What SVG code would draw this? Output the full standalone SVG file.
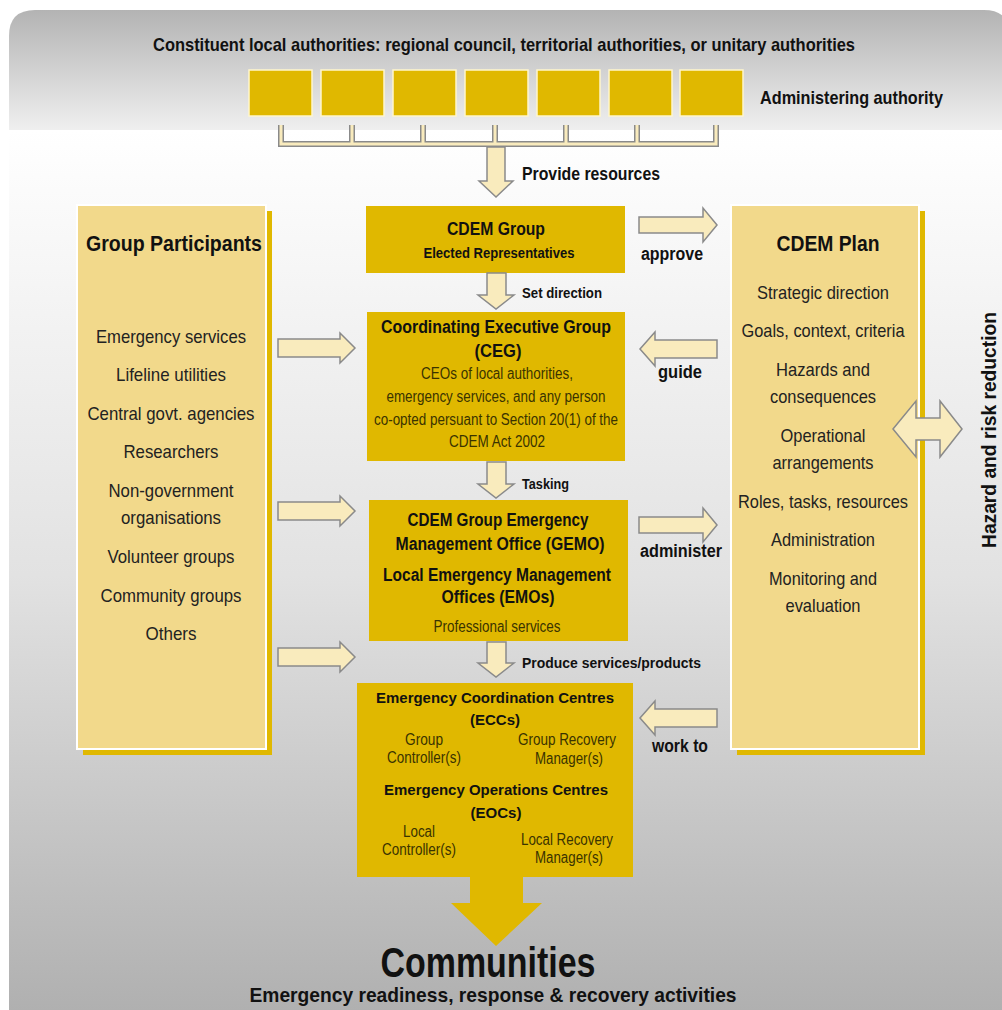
<svg xmlns="http://www.w3.org/2000/svg" width="1002" height="1010" viewBox="0 0 1002 1010">
<defs>
<linearGradient id="gTop" x1="0" y1="0" x2="0" y2="1"><stop offset="0" stop-color="#b3b3b3"/><stop offset="1" stop-color="#efefef"/></linearGradient>
<linearGradient id="gLow" x1="0" y1="0" x2="0" y2="1"><stop offset="0" stop-color="#ffffff"/><stop offset="0.5" stop-color="#e2e2e2"/><stop offset="1" stop-color="#afafaf"/></linearGradient>
</defs>
<style>
.b{font-family:"Liberation Sans",Arial,sans-serif;font-weight:bold;fill:#111;}
.r{font-family:"Liberation Sans",Arial,sans-serif;fill:#222;}
.ry{font-family:"Liberation Sans",Arial,sans-serif;fill:#3a3300;}
.m{text-anchor:middle;}
.ybox{fill:#e0b800;}
.sq{fill:#e0b800;stroke:#fff6cc;stroke-width:1.5;}
.panel{fill:#f2d98b;stroke:#ffffff;stroke-width:2;}
.shadow{fill:#e0b800;}
.arr{fill:#f9ebbd;stroke:#8a8a8a;stroke-width:1.5;stroke-linejoin:miter;}
.brO{fill:none;stroke:#8a8a8a;stroke-width:6;stroke-linejoin:miter;}
.brI{fill:none;stroke:#f9ebbd;stroke-width:3;stroke-linejoin:miter;}
</style>
<!-- background -->
<rect x="9" y="130" width="1000" height="890" fill="url(#gLow)"/>
<path d="M9,130 V36 Q9,10 35,10 H984 Q1010,10 1010,36 V130 Z" fill="url(#gTop)"/>

<text class="b m" x="504" y="51" font-size="19" textLength="702" lengthAdjust="spacingAndGlyphs">Constituent local authorities: regional council, territorial authorities, or unitary authorities</text>
<text class="b" x="760" y="104" font-size="19" textLength="183" lengthAdjust="spacingAndGlyphs">Administering authority</text>

<g id="authorities">
<rect class="sq" x="249" y="70" width="63" height="46"/>
<rect class="sq" x="321" y="70" width="63" height="46"/>
<rect class="sq" x="393" y="70" width="63" height="46"/>
<rect class="sq" x="465" y="70" width="63" height="46"/>
<rect class="sq" x="537" y="70" width="63" height="46"/>
<rect class="sq" x="609" y="70" width="63" height="46"/>
<rect class="sq" x="680" y="70" width="63" height="46"/>
</g>

<g id="group-participants">
<rect class="shadow" x="83" y="211" width="189" height="544"/>
<rect class="panel" x="77" y="205" width="189" height="544"/>
<text class="b m" x="174" y="251" font-size="22" textLength="176" lengthAdjust="spacingAndGlyphs">Group Participants</text>
<text class="r m" x="171" y="343" font-size="19" textLength="150" lengthAdjust="spacingAndGlyphs">Emergency services</text>
<text class="r m" x="171" y="381" font-size="19" textLength="110" lengthAdjust="spacingAndGlyphs">Lifeline utilities</text>
<text class="r m" x="171" y="420" font-size="19" textLength="167" lengthAdjust="spacingAndGlyphs">Central govt. agencies</text>
<text class="r m" x="171" y="458" font-size="19" textLength="95" lengthAdjust="spacingAndGlyphs">Researchers</text>
<text class="r m" x="171" y="497" font-size="19" textLength="125" lengthAdjust="spacingAndGlyphs">Non-government</text>
<text class="r m" x="171" y="524" font-size="19" textLength="100" lengthAdjust="spacingAndGlyphs">organisations</text>
<text class="r m" x="171" y="563" font-size="19" textLength="127" lengthAdjust="spacingAndGlyphs">Volunteer groups</text>
<text class="r m" x="171" y="602" font-size="19" textLength="141" lengthAdjust="spacingAndGlyphs">Community groups</text>
<text class="r m" x="171" y="640" font-size="19" textLength="51" lengthAdjust="spacingAndGlyphs">Others</text>
</g>

<g id="cdem-plan">
<rect class="shadow" x="737" y="211" width="188" height="544"/>
<rect class="panel" x="731" y="205" width="188" height="544"/>
<text class="b m" x="828" y="251" font-size="22" textLength="103" lengthAdjust="spacingAndGlyphs">CDEM Plan</text>
<text class="r m" x="823" y="299" font-size="19" textLength="132" lengthAdjust="spacingAndGlyphs">Strategic direction</text>
<text class="r m" x="823" y="337" font-size="19" textLength="163" lengthAdjust="spacingAndGlyphs">Goals, context, criteria</text>
<text class="r m" x="823" y="376" font-size="19" textLength="94" lengthAdjust="spacingAndGlyphs">Hazards and</text>
<text class="r m" x="823" y="403" font-size="19" textLength="106" lengthAdjust="spacingAndGlyphs">consequences</text>
<text class="r m" x="823" y="442" font-size="19" textLength="85" lengthAdjust="spacingAndGlyphs">Operational</text>
<text class="r m" x="823" y="469" font-size="19" textLength="101" lengthAdjust="spacingAndGlyphs">arrangements</text>
<text class="r m" x="823" y="508" font-size="19" textLength="170" lengthAdjust="spacingAndGlyphs">Roles, tasks, resources</text>
<text class="r m" x="823" y="546" font-size="19" textLength="104" lengthAdjust="spacingAndGlyphs">Administration</text>
<text class="r m" x="823" y="585" font-size="19" textLength="108" lengthAdjust="spacingAndGlyphs">Monitoring and</text>
<text class="r m" x="823" y="612" font-size="19" textLength="75" lengthAdjust="spacingAndGlyphs">evaluation</text>
</g>

<text class="b m" x="996" y="430" font-size="20" transform="rotate(-90 996 430)" textLength="236" lengthAdjust="spacingAndGlyphs">Hazard and risk reduction</text>

<g id="cdem-group">
<rect class="ybox" x="366" y="206" width="259" height="67"/>
<text class="b m" x="496" y="235" font-size="18" textLength="98" lengthAdjust="spacingAndGlyphs">CDEM Group</text>
<text class="b m" x="499" y="258" font-size="15" textLength="151" lengthAdjust="spacingAndGlyphs">Elected Representatives</text>
</g>

<g id="ceg">
<rect class="ybox" x="367" y="312" width="258" height="149"/>
<text class="b m" x="496" y="333" font-size="18" textLength="230" lengthAdjust="spacingAndGlyphs">Coordinating Executive Group</text>
<text class="b m" x="498" y="357" font-size="18" textLength="47" lengthAdjust="spacingAndGlyphs">(CEG)</text>
<text class="ry m" x="497" y="379" font-size="16" textLength="152" lengthAdjust="spacingAndGlyphs">CEOs of local authorities,</text>
<text class="ry m" x="496" y="402" font-size="16" textLength="219" lengthAdjust="spacingAndGlyphs">emergency services, and any person</text>
<text class="ry m" x="496" y="425" font-size="16" textLength="244" lengthAdjust="spacingAndGlyphs">co-opted persuant to Section 20(1) of the</text>
<text class="ry m" x="497" y="447" font-size="16" textLength="96" lengthAdjust="spacingAndGlyphs">CDEM Act 2002</text>
</g>

<g id="gemo">
<rect class="ybox" x="369" y="500" width="259" height="141"/>
<text class="b m" x="498" y="526" font-size="18" textLength="181" lengthAdjust="spacingAndGlyphs">CDEM Group Emergency</text>
<text class="b m" x="500" y="550" font-size="18" textLength="209" lengthAdjust="spacingAndGlyphs">Management Office (GEMO)</text>
<text class="b m" x="497" y="581" font-size="18" textLength="228" lengthAdjust="spacingAndGlyphs">Local Emergency Management</text>
<text class="b m" x="498" y="603" font-size="18" textLength="113" lengthAdjust="spacingAndGlyphs">Offices (EMOs)</text>
<text class="ry m" x="497" y="632" font-size="16" textLength="127" lengthAdjust="spacingAndGlyphs">Professional services</text>
</g>

<g id="ecc-eoc">
<rect class="ybox" x="357" y="683" width="276" height="194"/>
<text class="b m" x="495" y="703" font-size="15" textLength="238" lengthAdjust="spacingAndGlyphs">Emergency Coordination Centres</text>
<text class="b m" x="495" y="725" font-size="15" textLength="50" lengthAdjust="spacingAndGlyphs">(ECCs)</text>
<text class="ry m" x="424" y="745" font-size="16" textLength="38" lengthAdjust="spacingAndGlyphs">Group</text>
<text class="ry m" x="424" y="763" font-size="16" textLength="74" lengthAdjust="spacingAndGlyphs">Controller(s)</text>
<text class="ry m" x="567" y="745" font-size="16" textLength="98" lengthAdjust="spacingAndGlyphs">Group Recovery</text>
<text class="ry m" x="569" y="764" font-size="16" textLength="68" lengthAdjust="spacingAndGlyphs">Manager(s)</text>
<text class="b m" x="496" y="795" font-size="15" textLength="224" lengthAdjust="spacingAndGlyphs">Emergency Operations Centres</text>
<text class="b m" x="496" y="818" font-size="15" textLength="51" lengthAdjust="spacingAndGlyphs">(EOCs)</text>
<text class="ry m" x="419" y="837" font-size="16" textLength="32" lengthAdjust="spacingAndGlyphs">Local</text>
<text class="ry m" x="419" y="855" font-size="16" textLength="74" lengthAdjust="spacingAndGlyphs">Controller(s)</text>
<text class="ry m" x="567" y="845" font-size="16" textLength="92" lengthAdjust="spacingAndGlyphs">Local Recovery</text>
<text class="ry m" x="569" y="863" font-size="16" textLength="68" lengthAdjust="spacingAndGlyphs">Manager(s)</text>
</g>

<g id="communities">
<text class="b m" x="488" y="977" font-size="42" textLength="215" lengthAdjust="spacingAndGlyphs">Communities</text>
<text class="b m" x="493" y="1002" font-size="21" textLength="487" lengthAdjust="spacingAndGlyphs">Emergency readiness, response &amp; recovery activities</text>
</g>

<g id="connectors">
<path class="brO" d="M281,125 V144 H716 V125 M352,125 V144 M423,125 V144 M495,125 V144 M566,125 V144 M637,125 V144"/>
<path class="brI" d="M281,125 V144 H716 V125 M352,125 V144 M423,125 V144 M495,125 V144 M566,125 V144 M637,125 V144"/>
<polygon class="arr" points="487,147 505,147 505,181 513,181 496,197 479,181 487,181"/>
<polygon class="arr" points="487,273 506,273 506,295 514,295 496,309 478,295 487,295"/>
<polygon class="arr" points="487,462 506,462 506,484 514,484 496,498 478,484 487,484"/>
<polygon class="arr" points="487,642 506,642 506,663 514,663 496,677 478,663 487,663"/>
<polygon class="arr" points="278,339 340,339 340,333 355,348 340,363 340,357 278,357"/>
<polygon class="arr" points="278,502 340,502 340,496 355,511 340,526 340,520 278,520"/>
<polygon class="arr" points="278,648 340,648 340,642 355,657 340,672 340,666 278,666"/>
<polygon class="arr" points="639,217 703,217 703,208 717,225 703,242 703,233 639,233"/>
<polygon class="arr" points="639,517 703,517 703,508 717,525 703,542 703,533 639,533"/>
<polygon class="arr" points="717,340 655,340 655,332 640,349 655,366 655,358 717,358"/>
<polygon class="arr" points="717,709 655,709 655,701 640,718 655,735 655,727 717,727"/>
<polygon class="arr" points="893,429 916,401 916,418 940,418 940,401 962,429 940,457 940,440 916,440 916,457"/>
<polygon class="ybox" points="470,876 523,876 523,903 542,903 496,946 451,903 470,903"/>
</g>

<text class="b" x="522" y="180" font-size="18" textLength="138" lengthAdjust="spacingAndGlyphs">Provide resources</text>
<text class="b" x="522" y="298" font-size="15" textLength="80" lengthAdjust="spacingAndGlyphs">Set direction</text>
<text class="b" x="522" y="489" font-size="15" textLength="47" lengthAdjust="spacingAndGlyphs">Tasking</text>
<text class="b" x="522" y="668" font-size="15" textLength="179" lengthAdjust="spacingAndGlyphs">Produce services/products</text>
<text class="b" x="641" y="260" font-size="18" textLength="62" lengthAdjust="spacingAndGlyphs">approve</text>
<text class="b" x="658" y="378" font-size="18" textLength="44" lengthAdjust="spacingAndGlyphs">guide</text>
<text class="b" x="640" y="557" font-size="18" textLength="82" lengthAdjust="spacingAndGlyphs">administer</text>
<text class="b" x="652" y="752" font-size="18" textLength="56" lengthAdjust="spacingAndGlyphs">work to</text>
</svg>
